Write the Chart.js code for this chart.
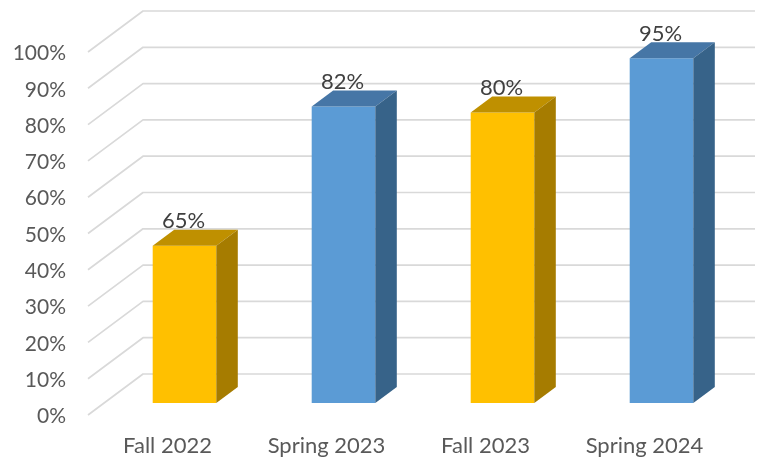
<!DOCTYPE html>
<html><head><meta charset="utf-8">
<style>html,body{margin:0;padding:0;background:#fff}canvas{display:block}</style>
<script src="https://cdn.jsdelivr.net/npm/chart.js@4/dist/chart.umd.min.js"></script>
</head><body><canvas id="c" width="763" height="460"></canvas>
<script>
const categories = ["Fall 2022","Spring 2023","Fall 2023","Spring 2024"];
const barHeights = [43.3,81.7,80,95];
const barLabels = ["65%","82%","80%","95%"];
const yTicks = [0,10,20,30,40,50,60,70,80,90,100];
const frontColors = ["#FFC000","#5B9BD5","#FFC000","#5B9BD5"];
const topColors = ["#BF9000","#4676A6","#BF9000","#4676A6"];
const sideColors = ["#A67C00","#376389","#A67C00","#376389"];
const FONT = "Lato";
const WALL = {dx:55, dy:41, right:755};
const BAR_SHIFT = {dx:17, dy:-12};
const DEPTH = {dx:21.5, dy:16};

const wall = {
  id:'wall',
  beforeDatasetsDraw(chart){
    const {ctx,scales:{y},chartArea:a}=chart;
    ctx.save();ctx.strokeStyle='#D9D9D9';ctx.lineWidth=1.7;ctx.lineJoin='round';
    yTicks.forEach(v=>{
      const p=y.getPixelForValue(v);
      ctx.beginPath();ctx.moveTo(a.left,p);ctx.lineTo(a.left+WALL.dx,p-WALL.dy);ctx.lineTo(WALL.right,p-WALL.dy);ctx.stroke();
    });
    ctx.restore();
  }
};
const solid = {
  id:'solid',
  beforeDatasetDraw(chart){const c=chart.ctx;c.save();c.translate(BAR_SHIFT.dx,BAR_SHIFT.dy);},
  afterDatasetDraw(chart,args){
    const c=chart.ctx;
    args.meta.data.forEach((b,i)=>{
      const l=b.x-b.width/2,r=b.x+b.width/2,t=b.y,bt=b.base;
      c.fillStyle=topColors[i];c.beginPath();c.moveTo(l,t);c.lineTo(l+DEPTH.dx,t-DEPTH.dy);c.lineTo(r+DEPTH.dx,t-DEPTH.dy);c.lineTo(r,t);c.closePath();c.fill();
      c.fillStyle=sideColors[i];c.beginPath();c.moveTo(r,t);c.lineTo(r+DEPTH.dx,t-DEPTH.dy);c.lineTo(r+DEPTH.dx,bt-DEPTH.dy);c.lineTo(r,bt);c.closePath();c.fill();
    });
    c.fillStyle='#404040';c.font='22px '+FONT;c.textAlign='center';c.textBaseline='middle';
    args.meta.data.forEach((b,i)=>c.fillText(barLabels[i],b.x-1,b.y-24.5));
    c.restore();
  }
};
new Chart(document.getElementById('c'),{
  type:'bar',
  data:{labels:categories,datasets:[{data:barHeights,backgroundColor:frontColors,borderWidth:0,categoryPercentage:1,barPercentage:0.4,clip:false}]},
  plugins:[wall,solid],
  options:{
    responsive:false,animation:false,devicePixelRatio:1,
    layout:{padding:{left:0,right:39,top:52,bottom:0}},
    plugins:{legend:{display:false},tooltip:{enabled:false},title:{display:false}},
    scales:{
      x:{grid:{display:false},border:{display:false},
         ticks:{color:'#595959',font:{family:FONT,size:22},padding:10,maxRotation:0,autoSkip:false},
         afterFit(s){s.height=45;}},
      y:{min:0,max:100,grid:{display:false,drawTicks:false},border:{display:false},
         ticks:{color:'#595959',font:{family:FONT,size:21},stepSize:10,padding:22,labelOffset:1.5,callback:v=>v+'%'},
         afterFit(s){s.width=88;}}
    }
  }
});
</script></body></html>
